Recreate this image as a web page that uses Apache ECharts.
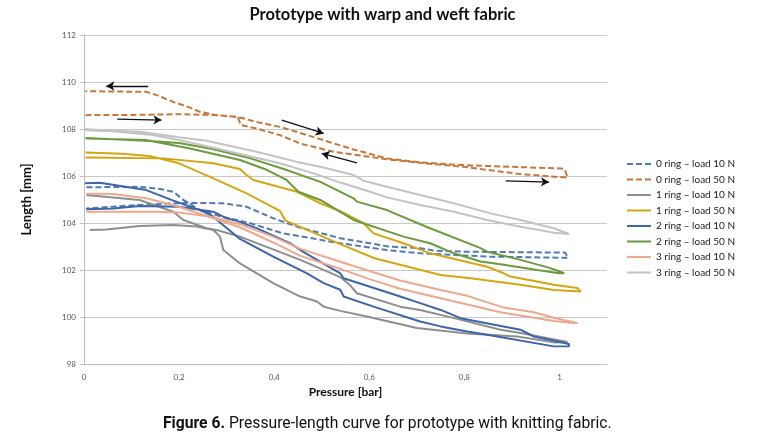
<!DOCTYPE html>
<html>
<head>
<meta charset="utf-8">
<script src="https://cdn.jsdelivr.net/npm/echarts@6/dist/echarts.min.js"></script>
<style>
html,body{margin:0;padding:0;background:#fff;}
#chart{width:765px;height:441px;}
</style>
</head>
<body>
<div id="chart"></div>
<script>
// ---- Data (pressure [bar], length [mm]) ----
const seriesNames = [
  "0 ring \u2013 load 10 N", "0 ring \u2013 load 50 N",
  "1 ring \u2013 load 10 N", "1 ring \u2013 load 50 N",
  "2 ring \u2013 load 10 N", "2 ring \u2013 load 50 N",
  "3 ring \u2013 load 10 N", "3 ring \u2013 load 50 N"
];

const ring0_10N = [
  [0.005,105.52],[0.06,105.53],[0.117,105.54],[0.16,105.45],[0.188,105.33],[0.209,104.98],[0.244,104.55],
  [0.29,104.27],[0.35,103.99],[0.418,103.56],[0.539,103.14],[0.636,102.85],[0.707,102.71],[0.848,102.57],
  [1.018,102.52],[1.012,102.74],
  [1.005,102.74],[0.8,102.78],[0.737,102.82],[0.707,102.93],[0.64,103.0],[0.539,103.35],[0.455,103.8],
  [0.398,104.2],[0.342,104.69],[0.293,104.84],[0.223,104.86],[0.117,104.77],[0.005,104.62]
];

const ring0_50N = [
  [0.003,108.59],[0.1,108.6],[0.2,108.63],[0.27,108.6],[0.323,108.52],[0.33,108.17],[0.363,108.02],
  [0.412,107.74],[0.455,107.38],[0.525,107.03],[0.637,106.71],[0.707,106.56],[0.799,106.39],[0.918,106.08],
  [1.017,105.93],[1.011,106.3],
  [1.003,106.32],[0.799,106.46],[0.707,106.58],[0.637,106.75],[0.567,107.13],[0.525,107.39],[0.455,107.83],
  [0.412,108.09],[0.363,108.3],[0.328,108.49],[0.279,108.59],[0.244,108.73],[0.223,108.91],[0.188,109.15],
  [0.153,109.44],[0.131,109.58],[0.003,109.61]
];

const ring1_10N = [
  [0.012,103.7],[0.047,103.72],[0.117,103.87],[0.188,103.92],[0.237,103.85],[0.272,103.7],[0.286,103.42],
  [0.293,102.85],[0.328,102.28],[0.398,101.44],[0.455,100.87],[0.49,100.66],[0.504,100.44],[0.539,100.26],
  [0.595,100.02],[0.7,99.53],[0.806,99.3],[0.911,99.17],[0.988,98.92],[1.017,98.94],
  [0.918,99.32],[0.876,99.46],[0.785,99.92],[0.707,100.3],[0.665,100.44],[0.574,101.01],[0.56,101.35],
  [0.539,101.7],[0.455,102.43],[0.328,103.42],[0.279,103.7],[0.258,103.78],[0.209,104.13],[0.188,104.48],
  [0.117,104.98],[0.005,105.19]
];

const ring1_50N = [
  [0.003,107.0],[0.08,106.95],[0.138,106.85],[0.2,106.54],[0.272,105.9],[0.342,105.26],[0.412,104.52],
  [0.424,104.1],[0.539,103.1],[0.611,102.5],[0.75,101.79],[0.813,101.65],[0.918,101.37],[0.988,101.15],
  [1.045,101.08],
  [1.038,101.23],[0.988,101.37],[0.897,101.72],[0.883,101.86],[0.848,102.14],[0.728,102.71],[0.672,103.14],
  [0.609,103.56],[0.588,103.99],[0.539,104.5],[0.497,104.84],[0.448,105.33],[0.356,105.83],[0.342,106.04],
  [0.328,106.3],[0.272,106.54],[0.167,106.75],[0.003,106.79]
];

const ring2_10N = [
  [0.002,105.69],[0.033,105.71],[0.131,105.4],[0.188,104.95],[0.25,104.5],[0.272,104.27],[0.293,103.9],
  [0.328,103.32],[0.398,102.57],[0.469,101.86],[0.504,101.44],[0.539,101.16],[0.546,100.87],[0.609,100.44],
  [0.707,99.81],[0.75,99.6],[0.806,99.38],[0.848,99.24],[0.988,98.75],[1.02,98.76],
  [1.02,98.85],[0.946,99.17],[0.918,99.46],[0.792,99.95],[0.75,100.3],[0.707,100.59],[0.665,100.87],
  [0.644,101.01],[0.546,101.65],[0.539,101.86],[0.455,102.85],[0.433,103.14],[0.363,103.78],[0.32,104.1],
  [0.3,104.2],[0.272,104.48],[0.2,104.69],[0.117,104.72],[0.061,104.62],[0.005,104.58]
];

const ring2_50N = [
  [0.003,107.6],[0.13,107.53],[0.223,107.17],[0.328,106.68],[0.38,106.3],[0.425,105.85],[0.44,105.54],
  [0.451,105.33],[0.497,104.98],[0.567,104.13],[0.672,103.42],[0.728,103.14],[0.778,102.71],[0.834,102.36],
  [0.883,102.22],[0.953,102.0],[1.0,101.86],
  [1.01,101.86],[0.981,102.08],[0.918,102.43],[0.848,102.78],[0.834,102.93],[0.72,103.84],[0.637,104.55],
  [0.574,104.91],[0.567,105.05],[0.497,105.75],[0.42,106.3],[0.35,106.75],[0.27,107.15],[0.2,107.4],
  [0.13,107.5],[0.003,107.62]
];

const ring3_10N = [
  [0.005,105.25],[0.061,105.23],[0.131,105.05],[0.2,104.69],[0.272,104.2],[0.328,103.82],[0.4,103.15],
  [0.455,102.6],[0.539,102.05],[0.602,101.6],[0.665,101.2],[0.75,100.8],[0.876,100.2],[0.988,99.83],
  [1.024,99.76],
  [1.038,99.74],[0.988,99.97],[0.946,100.2],[0.883,100.4],[0.806,100.9],[0.75,101.15],[0.665,101.55],
  [0.602,101.95],[0.539,102.35],[0.455,102.9],[0.4,103.4],[0.328,103.95],[0.272,104.25],[0.2,104.45],
  [0.15,104.48],[0.005,104.48]
];

const ring3_50N = [
  [0.0015,107.95],[0.06,107.9],[0.138,107.76],[0.2,107.53],[0.272,107.2],[0.342,106.87],[0.412,106.54],
  [0.483,106.11],[0.539,105.72],[0.602,105.33],[0.637,105.09],[0.707,104.77],[0.778,104.48],[0.848,104.13],
  [0.918,103.84],[0.988,103.59],[1.02,103.53],
  [0.988,103.78],[0.918,104.13],[0.855,104.41],[0.778,104.84],[0.707,105.19],[0.637,105.54],[0.588,105.8],
  [0.567,106.04],[0.497,106.39],[0.448,106.6],[0.363,107.03],[0.258,107.5],[0.2,107.65],[0.117,107.88],
  [0.06,107.93],[0.0015,108.0]
];

// direction arrows (annotations, data coordinates: from -> to)
const arrows = [
  [[0.135,109.83],[0.047,109.83]],
  [[0.07,108.42],[0.163,108.38]],
  [[0.416,108.38],[0.504,107.81]],
  [[0.574,106.56],[0.5,106.96]],
  [[0.887,105.79],[0.978,105.74]]
];

const yTicks = [98,100,102,104,106,108,110,112];
const xTicks = [0,0.2,0.4,0.6,0.8,1];

const seriesData = [ring0_10N, ring0_50N, ring1_10N, ring1_50N, ring2_10N, ring2_50N, ring3_10N, ring3_50N];
const colors = ['#4f7bb5','#c8773c','#8e8e8e','#d6a612','#3d65a9','#6a9b3d','#eda88d','#c3c3c3'];
const dashed = [true,true,false,false,false,false,false,false];

const chart = echarts.init(document.getElementById('chart'), null, {renderer:'canvas'});

const series = seriesData.map((d,i)=>{
  const s = {
    name: seriesNames[i],
    type: 'line',
    data: d,
    showSymbol: false,
    symbol: 'none',
    smooth: false,
    animation: false,
    z: 2 + i,
    lineStyle: {color: colors[i], width: 2, type: dashed[i] ? [6,3] : 'solid'},
    itemStyle: {color: colors[i]}
  };
  if (i === 1) {
    s.markLine = {
      silent: true,
      symbol: ['none','arrow'],
      symbolSize: [7,8],
      label: {show:false},
      lineStyle: {color:'#111', width:1.3, type:'solid'},
      data: arrows.map(a=>[{coord:a[0]},{coord:a[1]}])
    };
  }
  return s;
});

const option = {
  backgroundColor: '#ffffff',
  animation: false,
  color: colors,
  title: {
    text: 'Prototype with warp and weft fabric',
    left: 'center',
    top: 1,
    textStyle: {fontFamily:'Lato', fontWeight:'bold', fontSize:16.5, color:'#111'}
  },
  grid: {left: 84, right: 158, top: 35, bottom: 77, containLabel:false},
  legend: {
    orient: 'vertical',
    left: 626,
    top: 159,
    padding: 0,
    itemWidth: 24,
    itemHeight: 10,
    itemGap: 5.5,
    itemStyle: {opacity: 0, borderWidth: 0},
    textStyle: {fontFamily:'Lato', fontSize:10, color:'#222'},
    data: seriesNames
  },
  xAxis: {
    type: 'value',
    min: 0, max: 1.1, interval: 0.2,
    name: 'Pressure [bar]',
    nameLocation: 'middle',
    nameGap: 22,
    nameTextStyle: {fontFamily:'Lato', fontWeight:'bold', fontSize:12, color:'#111'},
    axisLine: {show:true, lineStyle:{color:'#bfbfbf'}},
    axisTick: {show:false},
    splitLine: {show:false},
    axisLabel: {
      fontFamily:'Lato', fontSize:8, color:'#595959', margin:9,
      formatter: v => xTicks.some(t=>Math.abs(t-v)<1e-6) ? String(Math.round(v*10)/10).replace('.',',') : ''
    }
  },
  yAxis: {
    type: 'value',
    min: 98, max: 112, interval: 2,
    name: 'Length [mm]',
    nameLocation: 'middle',
    nameGap: 51,
    nameRotate: 90,
    nameTextStyle: {fontFamily:'Lato', fontWeight:'bold', fontSize:13, color:'#111'},
    axisLine: {show:true, lineStyle:{color:'#bfbfbf'}},
    axisTick: {show:true, length:4, lineStyle:{color:'#bfbfbf'}},
    splitLine: {show:true, lineStyle:{color:'#c8c8c8', width:1}},
    axisLabel: {
      fontFamily:'Lato', fontSize:8, color:'#595959', margin:8,
      formatter: v => yTicks.includes(v) ? String(v) : ''
    }
  },
  graphic: [{
    type: 'text',
    left: 163,
    top: 416,
    style: {
      text: '{b|Figure 6.} Pressure-length curve for prototype with knitting fabric.',
      rich: {b: {fontWeight:'bold', fontSize:15.7, fontFamily:'Liberation Sans Narrow, Roboto, sans-serif', fill:'#111'}},
      fontFamily: 'Liberation Sans Narrow, Roboto, sans-serif',
      fontSize: 15.7,
      fill: '#111'
    }
  }],
  series: series
};
chart.setOption(option);
</script>
</body>
</html>
